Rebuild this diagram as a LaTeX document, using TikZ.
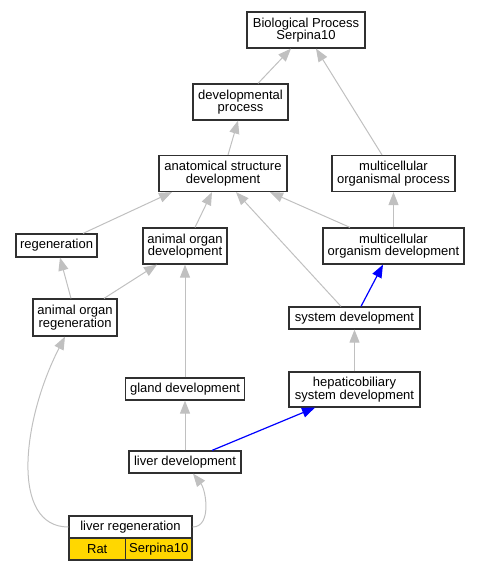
\documentclass[tikz,border=0pt]{standalone}
\usepackage{fontspec}
\setmainfont{Liberation Sans}
\usetikzlibrary{arrows.meta}
\definecolor{edgegray}{HTML}{C0C0C0}
\definecolor{boxline}{HTML}{303030}
\definecolor{gold}{HTML}{FFD700}
\begin{document}
\begin{tikzpicture}[x=1pt,y=-1pt,
  font=\fontsize{13}{12.5}\selectfont,
  term/.style={draw=boxline,line width=1.2pt,fill=white,inner sep=0pt,align=center,minimum height=#1},
  term/.default=36pt,
  isa/.style={draw=edgegray,line width=1pt,-{Triangle[length=13pt,width=10pt]}},
  part/.style={draw=blue,line width=1.2pt,-{Triangle[length=13pt,width=10pt]}},
  cell/.style={draw=boxline,line width=1.2pt,fill=gold,inner sep=0pt,minimum height=22pt}]
\useasboundingbox (0,0) rectangle (480,571);
\node[term,minimum width=118pt] (bp) at (306,30) {Biological Process\\Serpina10};
\node[term,minimum width=95pt] (dp) at (240.5,102) {developmental\\process};
\node[term,minimum width=128pt] (asd) at (223,173.5) {anatomical structure\\development};
\node[term,minimum width=123pt] (mop) at (393.5,173.5) {multicellular\\organismal process};
\node[term=23pt,minimum width=81pt] (reg) at (56.5,245.5) {regeneration};
\node[term,minimum width=84pt] (aod) at (185,246) {animal organ\\development};
\node[term,minimum width=141pt] (mod) at (393.5,246) {multicellular\\organism development};
\node[term=37pt,minimum width=84pt] (aor) at (75,317.5) {animal organ\\regeneration};
\node[term=22pt,minimum width=131pt] (sd) at (354.5,318) {system development};
\node[term=22pt,minimum width=119pt] (gd) at (185,389) {gland development};
\node[term=35pt,minimum width=131pt] (hsd) at (354.5,389.5) {hepaticobiliary\\system development};
\node[term=22pt,minimum width=112pt] (ld) at (185,462) {liver development};
\node[term=22pt,minimum width=123pt] (lr) at (130.5,527) {liver regeneration};
\node[cell,minimum width=56.5pt] (rat) at (97.25,549) {Rat};
\node[cell,minimum width=66.5pt] (serp) at (158.75,549) {Serpina10};

\draw[isa] ([xshift=17.5pt]dp.north) -- ([xshift=-15pt]bp.south);
\draw[isa] ([xshift=-11.5pt]mop.north) -- ([xshift=10pt]bp.south);
\draw[isa] ([xshift=5pt]asd.north) -- ([xshift=-2.5pt]dp.south);
\draw[isa] (mod.north) -- (mop.south);
\draw[isa] ([xshift=26.5pt]reg.north) -- ([xshift=-51pt]asd.south);
\draw[isa] ([xshift=10pt]aod.north) -- ([xshift=-11pt]asd.south);
\draw[isa] ([xshift=-13.5pt]sd.north) -- ([xshift=13pt]asd.south);
\draw[isa] ([xshift=-43.5pt]mod.north) -- ([xshift=47pt]asd.south);
\draw[isa] ([xshift=-4pt]aor.north) -- ([xshift=3.5pt]reg.south);
\draw[isa] ([xshift=29pt]aor.north) -- ([xshift=-28pt]aod.south);
\draw[isa] (gd.north) -- (aod.south);
\draw[part] ([xshift=6.5pt]sd.north) -- ([xshift=-10.5pt]mod.south);
\draw[isa] (hsd.north) -- (sd.south);
\draw[isa] (ld.north) -- (gd.south);
\draw[part] ([xshift=27pt]ld.north) -- ([xshift=-39.5pt]hsd.south);
\draw[isa] (lr.east) .. controls (212,527) and (206,490) .. ([xshift=8pt]ld.south);
\draw[isa] (lr.west) .. controls (10,527) and (22,420) .. ([xshift=-10pt]aor.south);
\end{tikzpicture}
\end{document}
